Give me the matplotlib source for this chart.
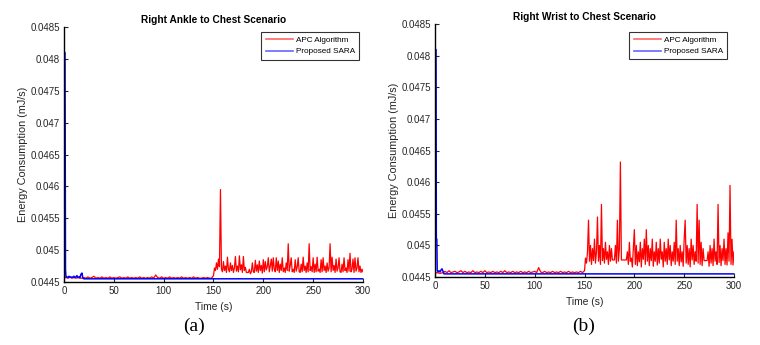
import numpy as np
import matplotlib
matplotlib.use("Agg")
import matplotlib.pyplot as plt

plt.rcParams['font.family'] = ['Liberation Sans', 'DejaVu Sans']

# values are in units of 1e-4 mJ/s (446.5 -> 0.04465)
titles = ["Right Ankle to Chest Scenario", "Right Wrist to Chest Scenario"]
captions = ["(a)", "(b)"]
series_names = ["APC Algorithm", "Proposed SARA"]
yticks = [0.0445, 0.045, 0.0455, 0.046, 0.0465, 0.047, 0.0475, 0.048, 0.0485]
ytick_labels = ["0.0445", "0.045", "0.0455", "0.046", "0.0465", "0.047", "0.0475", "0.048", "0.0485"]
xticks = [0, 50, 100, 150, 200, 250, 300]

# APC, 0-148 s every 2 s
apc_early_a = [445.6, 445.7, 445.6, 445.8, 445.6, 445.7, 445.6, 445.7, 445.6, 445.6,
               445.7, 445.6, 445.8, 445.6, 445.7, 445.9, 445.6, 445.7, 445.6, 445.8,
               445.6, 445.7, 445.6, 445.8, 445.6, 445.7, 445.6, 445.7, 445.8, 445.6,
               445.7, 445.6, 445.8, 445.6, 445.7, 445.6, 445.7, 445.6, 445.8, 445.6,
               445.7, 445.6, 445.7, 445.6, 445.8, 445.6, 446.1, 445.7, 445.6, 445.8,
               445.6, 445.7, 445.6, 445.8, 445.6, 445.7, 445.6, 445.7, 445.6, 445.8,
               445.6, 445.7, 445.6, 445.7, 445.6, 445.8, 445.6, 445.7, 445.6, 445.6,
               445.7, 445.6, 445.7, 445.6, 445.6]
apc_early_b = [445.6, 445.7, 445.6, 445.6, 445.7, 445.9, 445.7, 446.0, 445.7, 445.8,
               445.9, 445.7, 445.8, 446.0, 445.7, 445.9, 445.7, 445.8, 445.7, 446.0,
               445.7, 445.8, 445.7, 445.9, 445.7, 446.0, 445.7, 445.8, 445.7, 445.9,
               445.7, 445.8, 445.7, 445.9, 445.7, 446.0, 445.7, 445.8, 445.7, 445.9,
               445.7, 445.8, 445.7, 445.9, 445.7, 445.8, 445.7, 445.9, 445.7, 445.8,
               445.9, 445.7, 446.5, 445.8, 445.7, 445.9, 445.7, 445.8, 445.7, 445.9,
               445.7, 445.8, 445.7, 445.9, 445.7, 445.8, 445.7, 445.9, 445.7, 445.8,
               445.7, 445.8, 445.7, 445.9, 445.7]

# APC, 150-300 s every 1 s
apc_late_a = [446.0, 447.2, 446.8, 448.0, 447.0, 448.6, 447.4, 459.5, 447.0, 446.6,
              448.2, 446.8, 447.5, 446.5, 448.9, 447.0, 446.6, 448.0, 446.8, 447.6,
              446.5, 447.2, 449.0, 446.7, 447.5, 446.6, 449.1, 446.9, 447.7, 446.5,
              449.0, 446.8, 447.3, 446.5, 446.5, 446.5, 447.0, 446.3, 446.6, 448.0,
              446.6, 446.5, 448.4, 446.7, 447.7, 446.5, 448.3, 446.8, 447.6, 446.4,
              448.5, 446.6, 448.2, 446.9, 447.4, 448.8, 446.6, 447.5, 448.6, 446.7,
              448.8, 447.0, 446.6, 448.8, 446.8, 448.3, 446.5, 447.8, 446.8, 448.8,
              446.6, 447.2, 446.5, 448.0, 446.8, 451.0, 446.7, 447.6, 448.8, 446.6,
              447.0, 446.5, 448.5, 446.7, 447.3, 448.8, 446.6, 446.5, 447.8, 446.6,
              448.9, 446.8, 447.5, 446.5, 448.0, 446.6, 451.0, 446.8, 447.4, 446.6,
              448.8, 446.5, 447.8, 446.6, 448.9, 446.7, 447.0, 446.5, 448.5, 446.6,
              448.8, 446.8, 447.5, 446.5, 448.0, 446.7, 447.2, 451.0, 446.6, 448.9,
              446.8, 447.6, 446.5, 448.6, 446.7, 447.2, 448.8, 446.6, 446.5, 447.8,
              446.6, 448.8, 446.8, 447.2, 446.5, 448.5, 446.7, 449.5, 446.6, 447.0,
              448.6, 446.5, 448.8, 446.7, 447.2, 448.8, 446.6, 447.5, 446.5, 447.0,
              446.6]
apc_late_b = [446.0, 448.0, 447.2, 449.0, 454.0, 447.5, 450.0, 447.0, 449.5, 447.6,
              451.0, 447.2, 449.0, 454.5, 447.5, 450.0, 447.0, 456.5, 447.6, 449.5,
              447.2, 450.5, 447.8, 449.0, 447.0, 450.0, 447.5, 449.5, 447.7, 447.7,
              447.7, 450.0, 447.2, 454.0, 447.5, 449.5, 463.2, 447.7, 447.7, 447.7,
              447.7, 447.7, 447.7, 449.0, 447.0, 450.5, 447.5, 448.0, 446.6, 449.5,
              452.5, 447.0, 450.0, 446.8, 449.0, 447.4, 450.5, 446.6, 449.5, 447.8,
              451.0, 447.0, 452.5, 447.5, 450.0, 446.8, 449.5, 447.6, 451.0, 446.7,
              449.0, 447.5, 450.5, 446.9, 449.5, 447.2, 451.0, 447.8, 449.0, 446.6,
              450.5, 447.5, 449.5, 447.0, 451.0, 447.7, 450.0, 446.8, 449.0, 447.5,
              450.5, 447.0, 454.0, 447.5, 449.5, 446.8, 450.0, 447.4, 449.0, 446.7,
              451.0, 454.0, 447.2, 450.0, 447.0, 449.5, 446.6, 451.0, 447.7, 450.0,
              447.0, 449.0, 447.5, 456.5, 447.2, 454.0, 447.0, 450.5, 446.8, 449.5,
              447.6, 447.6, 447.6, 447.6, 449.0, 446.7, 450.0, 447.2, 449.5, 446.8,
              451.0, 447.5, 449.0, 447.0, 456.5, 447.3, 450.0, 446.8, 449.5, 447.6,
              451.0, 447.0, 449.5, 446.9, 452.0, 447.5, 459.5, 447.0, 451.0, 446.9,
              449.0]

# Proposed SARA
sara_t_a = [0, 1.0, 1.5, 2, 3, 4, 5, 6, 7, 8, 9, 10, 11, 12, 13, 14, 15, 16, 17, 18, 19, 20, 300]
sara_a = [481.0, 481.0, 447.0, 445.8, 445.8, 445.7, 445.9, 445.7, 445.8, 445.7, 445.8,
          445.9, 445.7, 445.8, 446.0, 445.7, 445.8, 445.7, 446.2, 446.4, 445.6, 445.5, 445.5]
sara_t_b = [0, 1.0, 1.3, 1.8, 2.2, 3, 4, 5, 6, 7, 8, 9, 300]
sara_b = [481.0, 481.0, 451.0, 451.0, 446.0, 445.8, 446.0, 445.8, 446.1, 446.3, 445.9,
          445.5, 445.5]

t_early = np.arange(0, 150, 2)
t_late = np.arange(150, 301, 1)
apc = [(apc_early_a, apc_late_a), (apc_early_b, apc_late_b)]
sara = [(sara_t_a, sara_a), (sara_t_b, sara_b)]

fig = plt.figure(figsize=(7.6, 3.45), dpi=100)
boxes = [[0.0842, 0.1826, 0.3934, 0.739], [0.5724, 0.197, 0.3934, 0.7326]]
legend_anchor = [(0.987, 0.98), (0.977, 0.969)]
caption_x = [0.255, 0.768]

for i in range(2):
    ax = fig.add_axes(boxes[i])
    t_apc = np.concatenate([t_early, t_late])
    y_apc = np.concatenate([apc[i][0], apc[i][1]]) * 1e-4
    ax.plot(t_apc, y_apc, color='#ff0000', lw=0.9, label=series_names[0])
    ax.plot(sara[i][0], np.array(sara[i][1]) * 1e-4, color='#0000ff', lw=1.1, label=series_names[1])

    ax.set_xlim(0, 300)
    ax.set_ylim(0.0445, 0.0485)
    ax.set_xticks(xticks)
    ax.set_yticks(yticks)
    ax.set_yticklabels(ytick_labels)
    ax.spines['top'].set_visible(False)
    ax.spines['right'].set_visible(False)
    ax.spines['left'].set_linewidth(1.0)
    ax.spines['bottom'].set_linewidth(1.0)
    ax.tick_params(direction='in', length=3, width=0.8, labelsize=7, pad=3, colors='#262626')

    ax.set_title(titles[i], fontsize=7.3, fontweight='bold', pad=3)
    ax.set_xlabel("Time (s)", fontsize=7.4, labelpad=4, color='#262626')
    ax.set_ylabel("Energy Consumption (mJ/s)", fontsize=7.8, labelpad=1.5, color='#262626')

    leg = ax.legend(loc='upper right', fontsize=5.9, frameon=True, fancybox=False,
                    handlelength=3.3, borderpad=0.5, labelspacing=0.45, handletextpad=0.4,
                    borderaxespad=0, bbox_to_anchor=legend_anchor[i])
    leg.get_frame().set_edgecolor('black')
    leg.get_frame().set_linewidth(0.8)
    for h, c in zip(leg.legend_handles, ['#ff6666', '#6666ff']):
        h.set_color(c)
        h.set_linewidth(1.2)

    fig.text(caption_x[i], 0.055, captions[i], ha='center', va='center',
             fontsize=14, family=['Liberation Serif', 'DejaVu Serif'])

fig.savefig("out.png", dpi=100)
